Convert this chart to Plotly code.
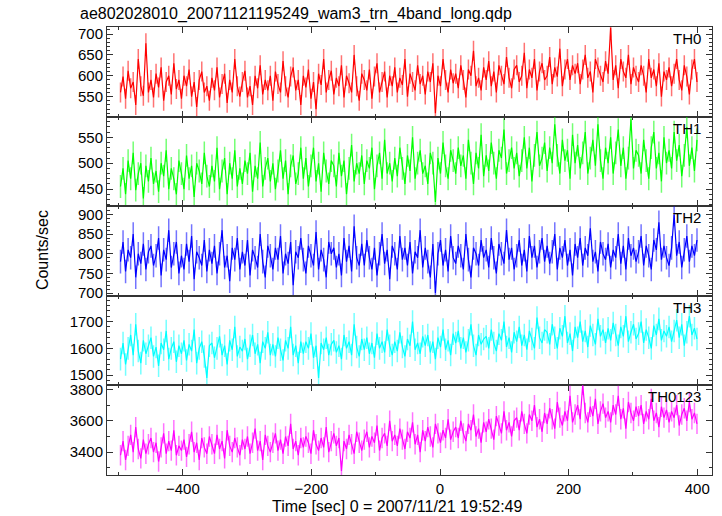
import plotly.graph_objects as go
from plotly.subplots import make_subplots

# Time bins
t_start = -497
bin_sec = 3.95

th0 = [
 560, 598, 545, 612, 570, 585, 530, 640, 575, 552, 678, 560,
 590, 548, 605, 572, 620, 540, 585, 600, 555, 630, 568, 590,
 545, 600, 575, 615, 550, 585, 525, 590, 610, 560, 575, 540,
 595, 565, 620, 548, 580, 605, 535, 590, 560, 640, 575, 550,
 585, 612, 548, 575, 530, 600, 570, 625, 555, 590, 565, 600,
 540, 610, 580, 560, 635, 575, 548, 598, 620, 565, 590, 530,
 600, 572, 615, 545, 585, 520, 605, 578, 640, 560, 590, 612,
 555, 595, 575, 625, 548, 600, 582, 560, 650, 575, 540, 605,
 590, 565, 615, 545, 598, 630, 560, 585, 610, 548, 600, 575,
 620, 560, 595, 578, 640, 550, 605, 585, 565, 625, 580, 600,
 555, 610, 585, 630, 510, 600, 575, 640, 590, 560, 615, 582,
 605, 570, 625, 590, 548, 615, 600, 660, 575, 595, 565, 620,
 590, 635, 575, 610, 560, 625, 600, 580, 645, 595, 570, 615,
 625, 585, 600, 655, 570, 615, 595, 640, 565, 610, 630, 590,
 600, 645, 580, 620, 598, 665, 575, 615, 640, 590, 625, 605,
 630, 580, 615, 650, 595, 610, 560, 640, 620, 600, 585, 635,
 605, 715, 590, 625, 570, 640, 610, 595, 650, 580, 620, 600,
 585, 625, 600, 560, 640, 595, 615, 575, 630, 550, 610, 590,
 620, 575, 605, 640, 590, 565, 625, 598, 555, 615, 640, 585,
]

th1 = [
 455, 490, 440, 505, 470, 520, 448, 480, 500, 432, 495, 465,
 510, 460, 485, 445, 500, 475, 525, 450, 490, 470, 440, 505,
 480, 450, 515, 470, 495, 435, 500, 485, 460, 520, 475, 455,
 495, 465, 530, 450, 485, 510, 440, 500, 470, 525, 455, 490,
 460, 505, 480, 520, 445, 495, 470, 540, 455, 490, 510, 465,
 500, 450, 485, 525, 470, 505, 440, 495, 515, 460, 480, 530,
 470, 510, 455, 495, 530, 465, 500, 445, 520, 485, 460, 505,
 495, 455, 520, 475, 505, 440, 490, 535, 465, 500, 480, 515,
 460, 505, 490, 530, 450, 495, 520, 470, 545, 480, 500, 465,
 510, 475, 530, 490, 460, 515, 485, 550, 470, 500, 525, 480,
 495, 460, 520, 500, 425, 510, 480, 540, 495, 470, 525, 505,
 480, 530, 495, 515, 470, 545, 500, 460, 520, 490, 555, 475,
 515, 485, 540, 500, 470, 525, 510, 565, 480, 505, 530, 490,
 520, 475, 505, 550, 490, 530, 465, 515, 560, 495, 510, 540,
 485, 530, 500, 575, 515, 480, 545, 505, 525, 470, 555, 500,
 535, 490, 520, 560, 480, 510, 545, 495, 575, 505, 470, 530,
 500, 550, 480, 520, 565, 495, 530, 470, 510, 585, 490, 525,
 515, 480, 545, 505, 470, 530, 560, 490, 520, 465, 550, 500,
 525, 490, 560, 505, 535, 475, 515, 570, 495, 530, 485, 545,
]

th2 = [
 780, 830, 755, 810, 790, 850, 740, 800, 775, 825, 760, 805,
 820, 770, 795, 840, 745, 810, 785, 860, 765, 800, 830, 750,
 795, 760, 825, 780, 845, 735, 805, 790, 770, 835, 755, 810,
 775, 820, 750, 800, 860, 765, 795, 730, 815, 785, 840, 760,
 805, 770, 835, 745, 810, 790, 765, 850, 780, 740, 820, 795,
 760, 815, 785, 845, 750, 800, 775, 830, 720, 805, 790, 840,
 785, 750, 820, 795, 770, 855, 760, 810, 785, 740, 830, 800,
 815, 765, 800, 745, 840, 780, 820, 755, 870, 790, 770, 825,
 770, 835, 790, 760, 815, 745, 800, 850, 775, 810, 735, 820,
 800, 760, 845, 785, 815, 770, 830, 750, 805, 790, 860, 765,
 815, 780, 740, 825, 700, 800, 835, 770, 810, 755, 845, 790,
 775, 820, 795, 760, 850, 785, 740, 815, 800, 770, 835, 790,
 810, 765, 840, 790, 750, 825, 800, 775, 860, 785, 815, 760,
 795, 835, 770, 810, 755, 845, 790, 820, 765, 805, 840, 780,
 820, 775, 805, 850, 760, 815, 790, 835, 770, 810, 745, 825,
 790, 840, 770, 815, 795, 865, 780, 805, 755, 830, 800, 785,
 825, 765, 810, 790, 850, 775, 820, 760, 840, 795, 815, 780,
 805, 845, 770, 820, 795, 760, 835, 810, 880, 785, 820, 790,
 770, 815, 900, 795, 830, 765, 810, 845, 780, 820, 795, 835,
]

th3 = [
 1560, 1620, 1540, 1600, 1650, 1575, 1690, 1590, 1545, 1630, 1580, 1610,
 1640, 1570, 1605, 1535, 1620, 1595, 1665, 1560, 1600, 1625, 1550, 1610,
 1580, 1630, 1555, 1615, 1590, 1670, 1545, 1600, 1625, 1570, 1490, 1610,
 1620, 1565, 1600, 1645, 1575, 1610, 1540, 1630, 1595, 1680, 1570, 1605,
 1590, 1635, 1560, 1610, 1650, 1580, 1615, 1545, 1625, 1600, 1660, 1575,
 1615, 1570, 1640, 1595, 1555, 1630, 1600, 1680, 1575, 1610, 1545, 1625,
 1580, 1625, 1600, 1655, 1565, 1610, 1490, 1620, 1595, 1640, 1575, 1615,
 1630, 1585, 1610, 1560, 1650, 1600, 1625, 1575, 1690, 1605, 1570, 1635,
 1595, 1640, 1580, 1620, 1565, 1655, 1600, 1625, 1585, 1670, 1610, 1575,
 1625, 1590, 1660, 1605, 1570, 1635, 1610, 1700, 1595, 1620, 1580, 1645,
 1610, 1650, 1585, 1625, 1560, 1640, 1605, 1670, 1595, 1630, 1575, 1655,
 1620, 1665, 1600, 1640, 1585, 1630, 1690, 1610, 1575, 1650, 1615, 1635,
 1645, 1600, 1670, 1620, 1590, 1655, 1630, 1700, 1605, 1640, 1585, 1660,
 1625, 1680, 1610, 1650, 1595, 1665, 1635, 1600, 1715, 1640, 1620, 1670,
 1660, 1615, 1690, 1640, 1600, 1675, 1645, 1720, 1620, 1655, 1590, 1680,
 1640, 1700, 1625, 1665, 1605, 1685, 1650, 1615, 1710, 1645, 1670, 1620,
 1675, 1630, 1695, 1650, 1610, 1680, 1645, 1720, 1625, 1660, 1690, 1635,
 1655, 1700, 1620, 1670, 1640, 1600, 1685, 1650, 1710, 1630, 1665, 1645,
 1680, 1625, 1665, 1705, 1640, 1690, 1610, 1660, 1720, 1650, 1675, 1635,
]

th0123 = [
 3380, 3470, 3350, 3440, 3510, 3400, 3560, 3420, 3360, 3480, 3390, 3450,
 3490, 3400, 3460, 3340, 3430, 3520, 3390, 3470, 3410, 3540, 3380, 3440,
 3410, 3480, 3370, 3450, 3530, 3400, 3460, 3350, 3490, 3430, 3390, 3500,
 3450, 3390, 3510, 3420, 3470, 3360, 3540, 3440, 3400, 3490, 3430, 3380,
 3480, 3420, 3500, 3390, 3460, 3550, 3410, 3470, 3350, 3510, 3440, 3400,
 3460, 3520, 3410, 3480, 3390, 3500, 3440, 3580, 3420, 3470, 3380, 3490,
 3430, 3500, 3460, 3390, 3540, 3450, 3410, 3490, 3430, 3560, 3400, 3470,
 3520, 3440, 3490, 3280, 3470, 3420, 3510, 3450, 3390, 3530, 3460, 3410,
 3480, 3530, 3430, 3500, 3460, 3570, 3410, 3490, 3520, 3440, 3600, 3470,
 3510, 3440, 3550, 3480, 3420, 3530, 3490, 3590, 3450, 3510, 3400, 3540,
 3470, 3560, 3500, 3430, 3580, 3520, 3460, 3540, 3490, 3610, 3480, 3530,
 3560, 3490, 3600, 3520, 3470, 3580, 3540, 3640, 3500, 3550, 3460, 3590,
 3530, 3610, 3550, 3480, 3630, 3570, 3520, 3660, 3540, 3590, 3500, 3600,
 3620, 3540, 3660, 3580, 3520, 3640, 3600, 3700, 3560, 3610, 3530, 3650,
 3580, 3680, 3610, 3550, 3720, 3620, 3570, 3660, 3600, 3760, 3590, 3640,
 3700, 3610, 3830, 3650, 3590, 3690, 3630, 3740, 3580, 3660, 3710, 3620,
 3660, 3590, 3700, 3640, 3760, 3610, 3680, 3550, 3720, 3650, 3600, 3690,
 3630, 3700, 3580, 3660, 3610, 3740, 3600, 3650, 3560, 3690, 3620, 3670,
 3590, 3660, 3620, 3700, 3570, 3640, 3680, 3600, 3720, 3610, 3650, 3580,
]

band_names = ["TH0", "TH1", "TH2", "TH3", "TH0123"]
band_values = [th0, th1, th2, th3, th0123]
band_errors = [24, 22, 30, 42, 65]

x_tick_vals = [-400, -200, 0, 200, 400]
x_tick_text = ["\u2212400", "\u2212200", "0", "200", "400"]

title_text = "ae802028010_20071121195249_wam3_trn_4band_long.qdp"
x_title = "Time [sec] 0 = 2007/11/21 19:52:49"
y_title = "Counts/sec"

# style
colors = ["#ff0000", "#00ff00", "#0000ff", "#00ffff", "#ff00ff"]
err_colors = ["rgba(255,0,0,0.55)", "rgba(0,255,0,0.55)", "rgba(0,0,255,0.55)",
              "rgba(0,255,255,0.55)", "rgba(255,0,255,0.55)"]
y_ranges = [[502, 717], [417, 590], [693, 921], [1462, 1796], [3254, 3826]]
y_major = [50, 50, 50, 100, 200]
y_minor = [10, 10, 10, 20, 100]

fig = make_subplots(rows=5, cols=1, shared_xaxes=True, vertical_spacing=0)

font_family = "Liberation Sans, Arial, Helvetica, sans-serif"
axis_color = "#333333"

for i, (name, vals, err) in enumerate(zip(band_names, band_values, band_errors)):
    xs = [t_start + bin_sec * k for k in range(len(vals))]
    fig.add_trace(go.Scatter(
        x=xs, y=vals, mode="lines", name=name,
        line=dict(color=colors[i], width=1.2),
        error_y=dict(type="constant", value=err, color=err_colors[i], thickness=1.5, width=0),
        showlegend=False, hoverinfo="skip",
    ), row=i + 1, col=1)
    fig.update_yaxes(
        range=y_ranges[i], dtick=y_major[i], tick0=0,
        ticks="inside", ticklen=6, tickwidth=1, tickcolor=axis_color,
        minor=dict(dtick=y_minor[i], ticks="inside", ticklen=3, tickcolor=axis_color, showgrid=False),
        showline=True, linecolor=axis_color, linewidth=1, mirror="ticks",
        showgrid=False, zeroline=False, automargin=False,
        tickfont=dict(size=15, color="black", family=font_family),
        row=i + 1, col=1,
    )
    fig.update_xaxes(
        range=[-518, 423],
        tickvals=x_tick_vals, ticktext=x_tick_text,
        ticks="inside", ticklen=6, tickwidth=1, tickcolor=axis_color,
        minor=dict(dtick=100, tick0=0, ticks="inside", ticklen=3, tickcolor=axis_color, showgrid=False),
        showline=True, linecolor=axis_color, linewidth=1, mirror="ticks",
        showgrid=False, zeroline=False, automargin=False,
        showticklabels=(i == 4),
        tickfont=dict(size=15, color="black", family=font_family),
        row=i + 1, col=1,
    )
    yref = "y domain" if i == 0 else f"y{i + 1} domain"
    xref = "x domain" if i == 0 else f"x{i + 1} domain"
    fig.add_annotation(
        text=name, xref=xref, yref=yref, x=0.985, y=1.0,
        xanchor="right", yanchor="top", yshift=-1, showarrow=False,
        font=dict(size=15, color="black", family=font_family),
    )

fig.add_annotation(
    text=title_text, xref="paper", yref="paper",
    x=(78 - 107) / 605, y=1 + (27 - 14) / 448, xanchor="left", yanchor="middle",
    showarrow=False, font=dict(size=16, color="black", family=font_family),
)
fig.add_annotation(
    text=x_title, xref="paper", yref="paper",
    x=0.479, y=-0.071, xanchor="center", yanchor="middle", showarrow=False,
    font=dict(size=16, color="black", family=font_family),
)
fig.add_annotation(
    text=y_title, xref="paper", yref="paper", textangle=-90,
    x=(42 - 107) / 605, y=0.502, xanchor="center", yanchor="middle", showarrow=False,
    font=dict(size=16, color="black", family=font_family),
)

fig.update_layout(
    width=722, height=516,
    margin=dict(l=107, r=10, t=27, b=41, autoexpand=False),
    paper_bgcolor="white", plot_bgcolor="white",
    font=dict(family=font_family, color="black"),
)

fig.write_html(
    "out.html",
    config={"displayModeBar": False},
    post_script="document.body.style.margin='0';document.body.style.padding='0';",
)
